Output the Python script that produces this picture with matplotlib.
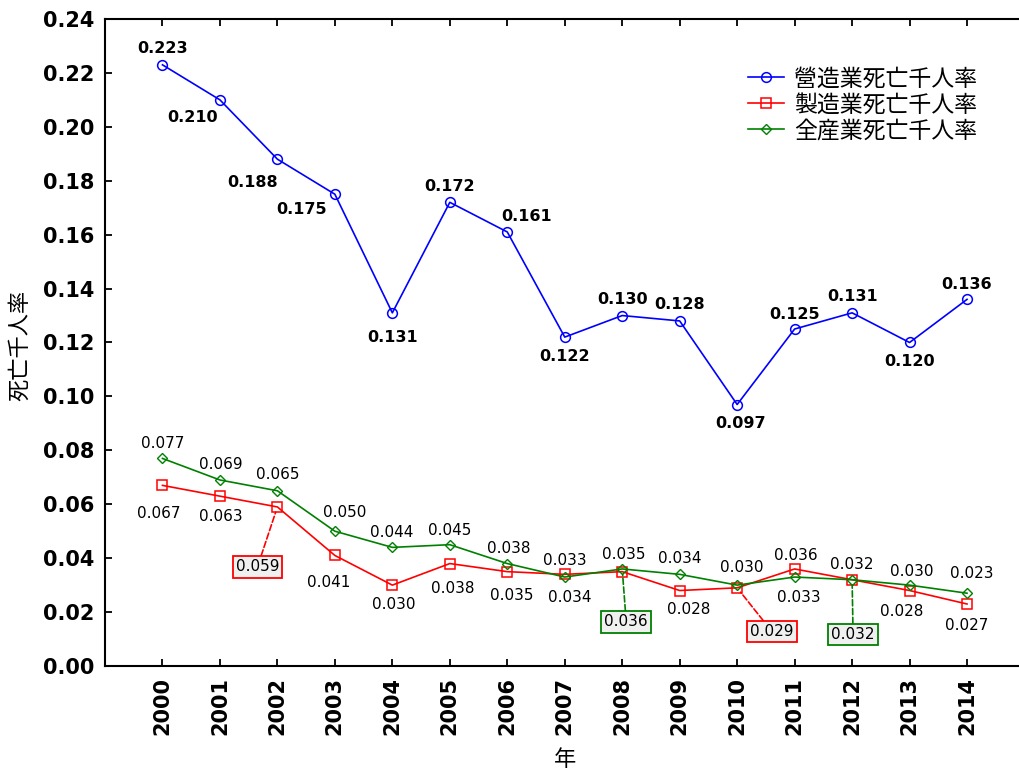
import matplotlib
matplotlib.use("Agg")
import matplotlib.pyplot as plt

plt.rcParams['font.family'] = ['DejaVu Sans', 'Noto Sans CJK JP']

years = list(range(2000, 2015))

# 營造業 / 製造業 / 全産業 死亡千人率
construction = [0.223, 0.210, 0.188, 0.175, 0.131, 0.172, 0.161, 0.122,
                0.130, 0.128, 0.097, 0.125, 0.131, 0.120, 0.136]
manufacturing = [0.067, 0.063, 0.059, 0.041, 0.030, 0.038, 0.035, 0.034,
                 0.035, 0.028, 0.029, 0.036, 0.032, 0.028, 0.023]
all_industry = [0.077, 0.069, 0.065, 0.050, 0.044, 0.045, 0.038, 0.033,
                0.036, 0.034, 0.030, 0.033, 0.032, 0.030, 0.027]

series_names = ["營造業死亡千人率", "製造業死亡千人率", "全産業死亡千人率"]

# label offsets (pixels, from the marker)
off_con = [(0, 16), (-27, -18), (-25, -23), (-33, -15), (0, -25), (0, 16), (19, 15),
           (0, -19), (0, 16), (0, 16), (3, -19), (0, 15), (0, 16), (0, -19), (0, 15)]
off_man = [(-4, -28), (1, -20), (-20, -60), (-6, -27), (1, -19), (3, -25), (4, -24),
           (5, -23), (2, 17), (9, -19), (35, -44), (1, 13), (0, 15), (-8, -21), (5, 30)]
off_all = [(0, 15), (1, 15), (0, 16), (10, 19), (-1, 15), (0, 14), (1, 15),
           (0, 17), (4, -53), (0, 16), (5, 18), (4, -20), (1, -55), (2, 14), (0, -32)]
boxed_man = [2002, 2010]
boxed_all = [2008, 2012]

W, H = 1019, 776
fig = plt.figure(figsize=(W / 100, H / 100), dpi=100)
ax = fig.add_axes([105 / W, 1 - 666 / H, 919.5 / W, 647 / H])

l1, = ax.plot(years, construction, color="#0000ff", lw=1.2, marker="o", ms=7,
              mfc="none", mec="#0000ff", mew=1.1)
l2, = ax.plot(years, manufacturing, color="#ff0000", lw=1.2, marker="s", ms=7.5,
              mfc="none", mec="#ff0000", mew=1.1)
l3, = ax.plot(years, all_industry, color="#008000", lw=1.2, marker="D", ms=5,
              mfc="none", mec="#008000", mew=1.0)


def put_labels(vals, offs, boxed, color, bold=False, size=11):
    for yr, v, (dx, dy) in zip(years, vals, offs):
        txt = f"{v:.3f}"
        if yr in boxed:
            ax.annotate(txt, (yr, v), xytext=(dx, dy), textcoords="offset pixels",
                        ha="center", va="center", fontsize=size,
                        bbox=dict(boxstyle="square,pad=0.2", fc="#f0f0f0", ec=color, lw=1.3),
                        arrowprops=dict(arrowstyle="-", ls="--", color=color, lw=1.2,
                                        shrinkA=0, shrinkB=4))
        else:
            ax.annotate(txt, (yr, v), xytext=(dx, dy), textcoords="offset pixels",
                        ha="center", va="center", fontsize=size,
                        fontweight="bold" if bold else "normal")


put_labels(construction, off_con, [], "#0000ff", bold=True, size=11.5)
put_labels(manufacturing, off_man, boxed_man, "#ff0000")
put_labels(all_industry, off_all, boxed_all, "#008000")

ax.set_xlim(1999, 2015)
ax.set_ylim(0, 0.24)
ax.set_xticks(years)
ax.set_xticklabels([str(y) for y in years], rotation=90, fontweight="bold", fontsize=15)
yt = [i * 0.02 for i in range(13)]
ax.set_yticks(yt)
ax.set_yticklabels([f"{t:.2f}" for t in yt], fontweight="bold", fontsize=15)
ax.tick_params(direction="in", top=True, right=False, length=5, width=1.3, pad=8)
for s in ax.spines.values():
    s.set_linewidth(1.5)

ax.set_ylabel("死亡千人率", fontsize=16, va="center")
ax.yaxis.set_label_coords(-0.0924, 0.496)
ax.set_xlabel("年", fontsize=16, va="center")
ax.xaxis.set_label_coords(0.5, -0.145)

ax.legend([l1, l2, l3], series_names, loc="upper left", bbox_to_anchor=(0.687, 0.943),
          frameon=False, fontsize=16.5, handlelength=1.55, handletextpad=0.45,
          labelspacing=0.13, borderpad=0)

fig.savefig("out.png", dpi=100)
